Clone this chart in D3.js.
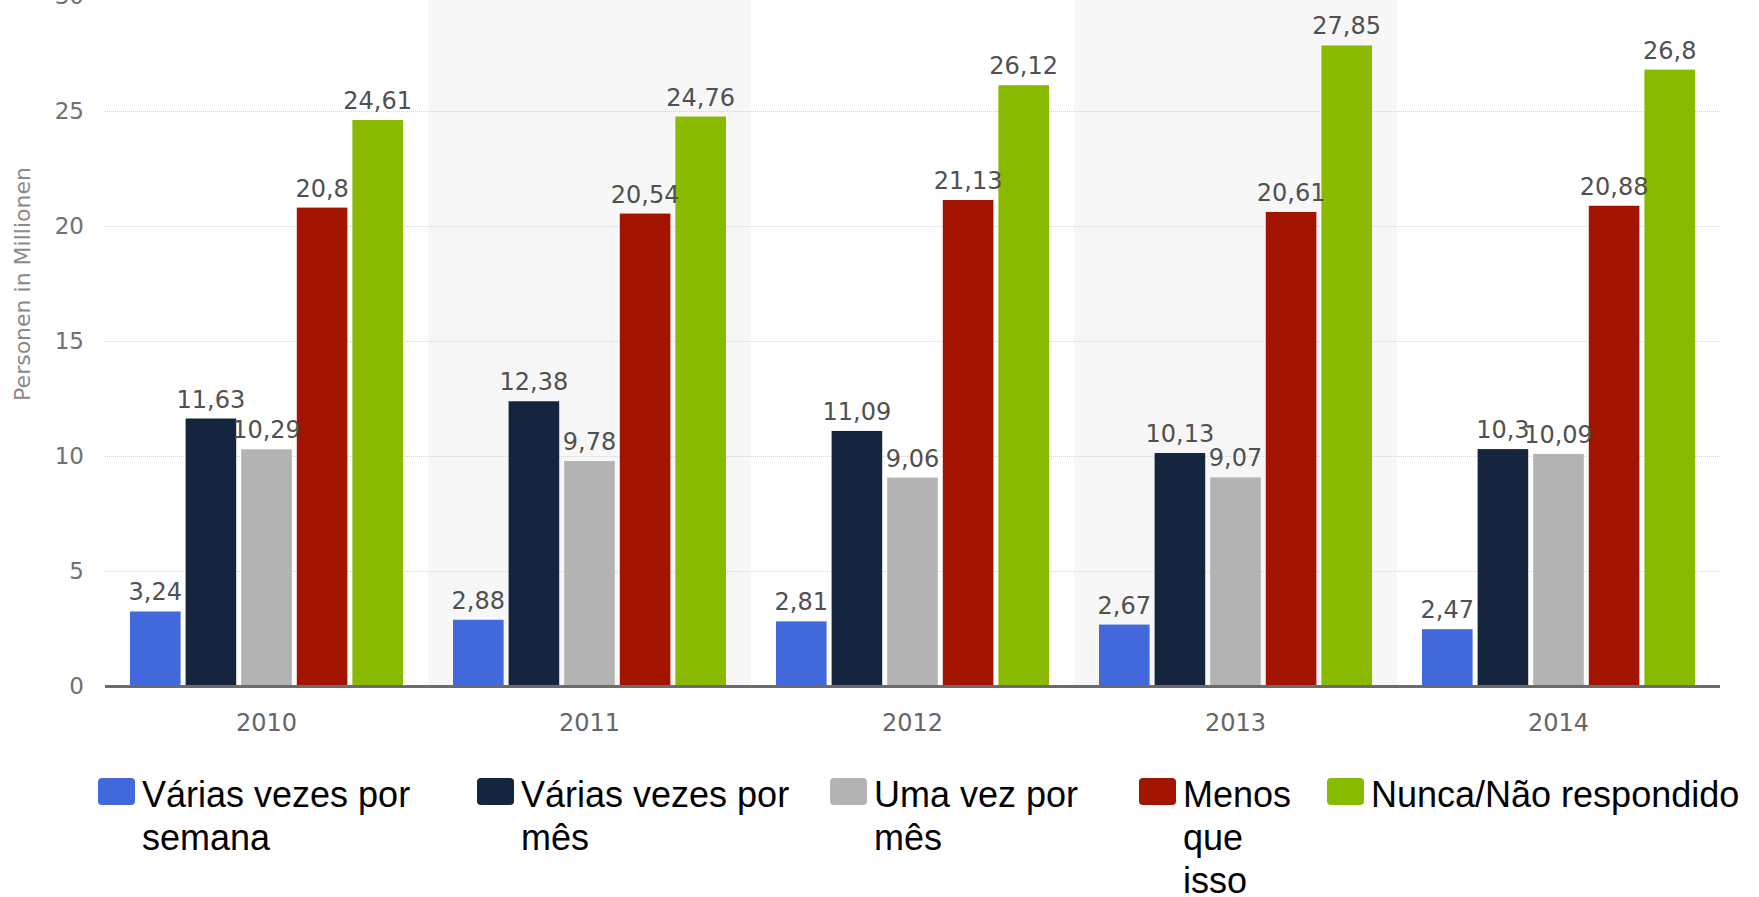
<!DOCTYPE html>
<html>
<head>
<meta charset="utf-8">
<script src="https://cdn.jsdelivr.net/npm/d3@7"></script>
<style>
  body { margin: 0; background: #fff; }
  svg { display: block; }
  .grid line { stroke: #d4d4d4; stroke-dasharray: 1,1; }
  .grid path { display: none; }
</style>
</head>
<body>
<div id="chart"></div>
<script>
// data
const years = ["2010", "2011", "2012", "2013", "2014"];
const seriesNames = ["Várias vezes por semana", "Várias vezes por mês", "Uma vez por mês", "Menos que isso", "Nunca/Não respondido"];
const seriesColors = ["#4169dc", "#14253d", "#b3b3b3", "#a21400", "#8aba00"];
const semanal = [3.24, 2.88, 2.81, 2.67, 2.47];
const mensal = [11.63, 12.38, 11.09, 10.13, 10.3];
const umaVez = [10.29, 9.78, 9.06, 9.07, 10.09];
const menos = [20.8, 20.54, 21.13, 20.61, 20.88];
const nunca = [24.61, 24.76, 26.12, 27.85, 26.8];
const yTicks = [0, 5, 10, 15, 20, 25, 30];

const seriesValues = [semanal, mensal, umaVez, menos, nunca];

const width = 1759,
    height = 897,
    margin = ({ top: -4, right: 39, bottom: 211, left: 105 });

// legend layout (x of each swatch, max text width before wrapping)
const legendX = [98, 477, 830, 1139, 1327];
const legendWrap = [290, 290, 250, 130, 500];

const svg = d3.select("#chart")
  .append("svg")
  .attr("width", width)
  .attr("height", height);

let x0 = d3.scaleBand()
  .domain(years)
  .range([margin.left, width - margin.right]);

let x1 = d3.scaleBand()
  .domain(d3.range(seriesNames.length))
  .range([0, x0.bandwidth()])
  .paddingInner(0.09)
  .paddingOuter(0.45);

let y = d3.scaleLinear()
  .domain([0, 30])
  .range([height - margin.bottom, margin.top]);

// alternating band shading
svg.append("g")
  .selectAll("rect")
  .data(years.filter((d, i) => i % 2 == 1))
  .join("rect")
  .attr("x", d => x0(d))
  .attr("y", y(30))
  .attr("width", x0.bandwidth())
  .attr("height", y(0) - y(30))
  .attr("fill", "#f7f7f7");

// gridlines
svg.append("g")
  .attr("class", "grid")
  .attr("transform", `translate(${margin.left},0)`)
  .call(d3.axisLeft(y).tickValues(yTicks.slice(1)).tickSize(-(width - margin.left - margin.right)).tickFormat(""));

// y tick labels
svg.append("g")
  .selectAll("text")
  .data(yTicks)
  .join("text")
  .attr("x", 84)
  .attr("y", d => y(d))
  .attr("dy", "0.36em")
  .attr("text-anchor", "end")
  .attr("font-family", "DejaVu Sans")
  .attr("font-size", 23)
  .attr("fill", "#707070")
  .text(d => d);

// y axis title
svg.append("text")
  .attr("transform", "translate(30,284) rotate(-90)")
  .attr("text-anchor", "middle")
  .attr("font-family", "DejaVu Sans")
  .attr("font-size", 22)
  .attr("fill", "#8a8a8a")
  .text("Personen in Millionen");

// bars
let groups = svg.append("g")
  .selectAll("g")
  .data(years)
  .join("g")
  .attr("transform", d => `translate(${x0(d)},0)`);

groups.selectAll("rect")
  .data((d, i) => seriesValues.map((s, k) => ({ k: k, v: s[i] })))
  .join("rect")
  .attr("x", d => x1(d.k))
  .attr("y", d => y(d.v))
  .attr("width", x1.bandwidth())
  .attr("height", d => y(0) - y(d.v))
  .attr("fill", d => seriesColors[d.k]);

groups.selectAll("text")
  .data((d, i) => seriesValues.map((s, k) => ({ k: k, v: s[i] })))
  .join("text")
  .attr("x", d => x1(d.k) + x1.bandwidth() / 2)
  .attr("y", d => y(d.v) - 11)
  .attr("text-anchor", "middle")
  .attr("font-family", "DejaVu Sans")
  .attr("font-size", 24)
  .attr("fill", "#505050")
  .text(d => String(d.v).replace(".", ","));

// x axis
svg.append("line")
  .attr("x1", margin.left)
  .attr("x2", width - margin.right)
  .attr("y1", y(0) + 0.5)
  .attr("y2", y(0) + 0.5)
  .attr("stroke", "#6b6b6b")
  .attr("stroke-width", 3);

svg.append("g")
  .selectAll("text")
  .data(years)
  .join("text")
  .attr("x", d => x0(d) + x0.bandwidth() / 2)
  .attr("y", 731)
  .attr("text-anchor", "middle")
  .attr("font-family", "DejaVu Sans")
  .attr("font-size", 24)
  .attr("fill", "#666")
  .text(d => d);

// legend
let legend = svg.append("g")
  .selectAll("g")
  .data(seriesNames)
  .join("g")
  .attr("transform", (d, i) => `translate(${legendX[i]},778)`);

legend.append("rect")
  .attr("width", 37)
  .attr("height", 27)
  .attr("rx", 4)
  .attr("fill", (d, i) => seriesColors[i]);

legend.each(function (d, i) {
  let t = d3.select(this).append("text")
    .attr("font-family", "Liberation Sans, Arial, sans-serif")
    .attr("font-size", 36)
    .attr("fill", "#000");
  let words = d.split(" "), line = [], n = 0;
  let tspan = t.append("tspan").attr("x", 44).attr("y", 29);
  for (let w of words) {
    line.push(w);
    tspan.text(line.join(" "));
    if (tspan.node().getComputedTextLength() > legendWrap[i] && line.length > 1) {
      line.pop();
      tspan.text(line.join(" "));
      line = [w];
      n++;
      tspan = t.append("tspan").attr("x", 44).attr("y", 29 + n * 43).text(w);
    }
  }
});
</script>
</body>
</html>
